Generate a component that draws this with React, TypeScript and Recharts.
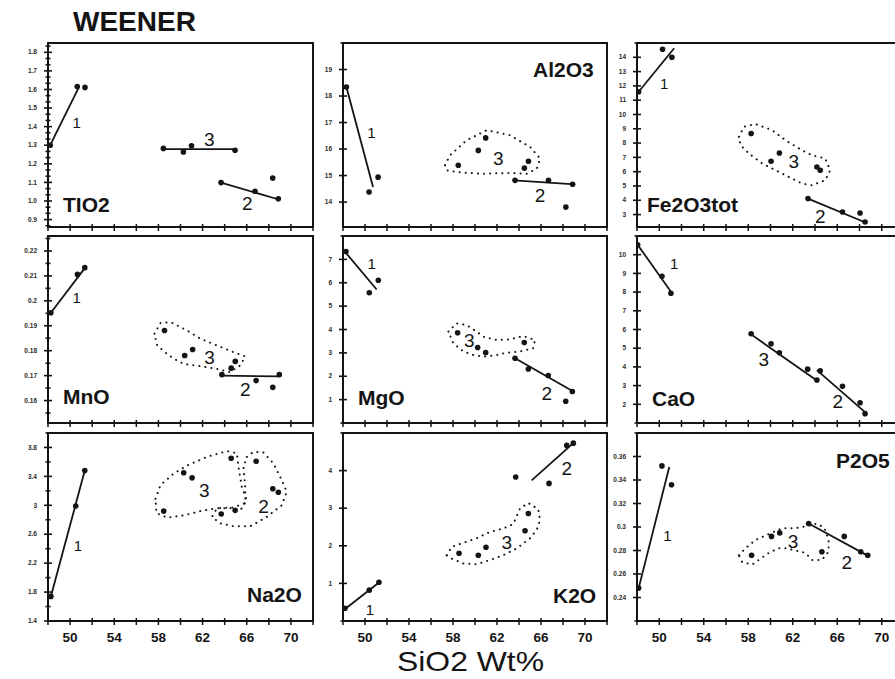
import React from 'react';
import { ScatterChart, Scatter, XAxis, YAxis, ReferenceArea } from 'recharts';

type P = { x: number; y: number };
type L = { x: number; y: number; t: string };

const INK = '#141414';

// shared SiO2 axis
const SIO2_DOMAIN = [48, 72];
const SIO2_TICKS = [48, 50, 52, 54, 56, 58, 60, 62, 64, 66, 68, 70, 72];
const SIO2_LABELS = [50, 54, 58, 62, 66, 70];

// ---------- TiO2 ----------
const TIO2_DOMAIN = [0.86, 1.85];
const TIO2_TICKS = [0.9, 1.0, 1.1, 1.2, 1.3, 1.4, 1.5, 1.6, 1.7, 1.8];
const TIO2_PTS: P[] = [
  { x: 48.2, y: 1.3 }, { x: 50.65, y: 1.616 }, { x: 51.35, y: 1.611 },
  { x: 58.45, y: 1.283 }, { x: 60.26, y: 1.264 }, { x: 61.0, y: 1.297 }, { x: 64.94, y: 1.273 },
  { x: 63.67, y: 1.099 }, { x: 66.75, y: 1.052 }, { x: 68.35, y: 1.123 }, { x: 68.86, y: 1.012 },
];
const TIO2_LINES: P[][] = [
  [{ x: 48.2, y: 1.3 }, { x: 50.8, y: 1.613 }],
  [{ x: 58.4, y: 1.279 }, { x: 65.0, y: 1.279 }],
  [{ x: 63.67, y: 1.099 }, { x: 68.9, y: 1.008 }],
];
const TIO2_ENVS: P[][] = [];
const TIO2_LBL: L[] = [
  { x: 50.6, y: 1.42, t: '1' }, { x: 62.6, y: 1.331, t: '3' }, { x: 66.05, y: 0.985, t: '2' },
];

// ---------- Al2O3 ----------
const AL_DOMAIN = [13.06, 20];
const AL_TICKS = [14, 15, 16, 17, 18, 19];
const AL_PTS: P[] = [
  { x: 48.31, y: 18.34 }, { x: 50.37, y: 14.38 }, { x: 51.19, y: 14.94 },
  { x: 58.48, y: 15.39 }, { x: 60.3, y: 15.95 }, { x: 60.97, y: 16.42 }, { x: 64.86, y: 15.54 }, { x: 64.49, y: 15.28 },
  { x: 63.64, y: 14.82 }, { x: 66.68, y: 14.82 }, { x: 68.87, y: 14.67 }, { x: 68.26, y: 13.81 },
];
const AL_LINES: P[][] = [
  [{ x: 48.31, y: 18.34 }, { x: 50.73, y: 14.57 }],
  [{ x: 63.55, y: 14.82 }, { x: 69.11, y: 14.67 }],
];
const AL_ENVS: P[][] = [[
  { x: 57.27, y: 15.39 }, { x: 57.72, y: 15.76 }, { x: 59.24, y: 16.33 }, { x: 61.07, y: 16.71 },
  { x: 63.19, y: 16.52 }, { x: 65.01, y: 16.08 }, { x: 65.92, y: 15.64 }, { x: 65.62, y: 15.26 },
  { x: 64.71, y: 15.07 }, { x: 63.19, y: 15.1 }, { x: 60.76, y: 15.07 }, { x: 58.33, y: 15.13 },
  { x: 57.42, y: 15.2 },
]];
const AL_LBL: L[] = [
  { x: 50.59, y: 16.64, t: '1' }, { x: 62.12, y: 15.64, t: '3' }, { x: 65.92, y: 14.25, t: '2' },
];

// ---------- Fe2O3tot ----------
const FE_DOMAIN = [2.13, 15.0];
const FE_TICKS = [3, 4, 5, 6, 7, 8, 9, 10, 11, 12, 13, 14];
const FE_PTS: P[] = [
  { x: 48.15, y: 11.59 }, { x: 50.3, y: 14.56 }, { x: 51.14, y: 14.0 },
  { x: 58.26, y: 8.67 }, { x: 60.05, y: 6.73 }, { x: 60.8, y: 7.31 }, { x: 64.17, y: 6.33 }, { x: 64.47, y: 6.1 },
  { x: 63.37, y: 4.12 }, { x: 66.47, y: 3.18 }, { x: 68.05, y: 3.11 }, { x: 68.5, y: 2.48 },
];
const FE_LINES: P[][] = [
  [{ x: 48.15, y: 11.59 }, { x: 51.34, y: 14.63 }],
  [{ x: 63.37, y: 4.12 }, { x: 68.65, y: 2.41 }],
];
const FE_ENVS: P[][] = [[
  { x: 57.16, y: 8.44 }, { x: 57.61, y: 9.14 }, { x: 58.65, y: 9.33 }, { x: 60.14, y: 8.91 },
  { x: 61.34, y: 8.2 }, { x: 62.83, y: 7.5 }, { x: 63.72, y: 7.15 }, { x: 64.92, y: 6.92 },
  { x: 65.37, y: 6.1 }, { x: 64.92, y: 5.4 }, { x: 63.72, y: 5.05 }, { x: 62.83, y: 5.17 },
  { x: 61.64, y: 5.63 }, { x: 60.45, y: 6.1 }, { x: 59.25, y: 6.57 }, { x: 58.06, y: 7.27 },
  { x: 57.31, y: 7.85 },
]];
const FE_LBL: L[] = [
  { x: 50.45, y: 12.18, t: '1' }, { x: 62.09, y: 6.68, t: '3' }, { x: 64.48, y: 2.83, t: '2' },
];

// ---------- MnO ----------
const MNO_DOMAIN = [0.151, 0.226];
const MNO_TICKS = [0.16, 0.17, 0.18, 0.19, 0.2, 0.21, 0.22];
const MNO_PTS: P[] = [
  { x: 48.26, y: 0.1952 }, { x: 50.67, y: 0.2106 }, { x: 51.33, y: 0.2133 },
  { x: 58.55, y: 0.1881 }, { x: 60.38, y: 0.1781 }, { x: 61.1, y: 0.1805 }, { x: 64.96, y: 0.1757 }, { x: 64.59, y: 0.173 },
  { x: 63.75, y: 0.1704 }, { x: 66.85, y: 0.168 }, { x: 68.36, y: 0.1653 }, { x: 68.95, y: 0.1704 },
];
const MNO_LINES: P[][] = [
  [{ x: 48.26, y: 0.1952 }, { x: 51.42, y: 0.2136 }],
  [{ x: 63.75, y: 0.17 }, { x: 68.95, y: 0.1697 }],
];
const MNO_ENVS: P[][] = [[
  { x: 57.64, y: 0.1868 }, { x: 58.19, y: 0.1911 }, { x: 59.09, y: 0.1915 }, { x: 60.6, y: 0.1881 },
  { x: 61.8, y: 0.1848 }, { x: 63.3, y: 0.1821 }, { x: 64.8, y: 0.1794 }, { x: 65.86, y: 0.1777 },
  { x: 65.41, y: 0.1741 }, { x: 64.5, y: 0.1714 }, { x: 63.3, y: 0.1727 }, { x: 61.8, y: 0.1738 },
  { x: 60.29, y: 0.1747 }, { x: 59.39, y: 0.1768 }, { x: 58.64, y: 0.1792 }, { x: 57.89, y: 0.1821 },
]];
const MNO_LBL: L[] = [
  { x: 50.6, y: 0.2013, t: '1' }, { x: 62.64, y: 0.1774, t: '3' }, { x: 65.86, y: 0.1644, t: '2' },
];

// ---------- MgO ----------
const MGO_DOMAIN = [0, 8];
const MGO_TICKS = [1, 2, 3, 4, 5, 6, 7];
const MGO_PTS: P[] = [
  { x: 48.27, y: 7.34 }, { x: 50.39, y: 5.57 }, { x: 51.21, y: 6.11 },
  { x: 58.42, y: 3.86 }, { x: 60.24, y: 3.23 }, { x: 60.97, y: 3.01 }, { x: 64.48, y: 3.44 },
  { x: 63.64, y: 2.77 }, { x: 64.85, y: 2.31 }, { x: 66.66, y: 2.03 }, { x: 68.85, y: 1.35 }, { x: 68.25, y: 0.93 },
];
const MGO_LINES: P[][] = [
  [{ x: 48.03, y: 7.41 }, { x: 51.06, y: 5.71 }],
  [{ x: 63.64, y: 2.77 }, { x: 68.94, y: 1.35 }],
];
const MGO_ENVS: P[][] = [[
  { x: 57.58, y: 3.91 }, { x: 58.33, y: 4.26 }, { x: 59.24, y: 4.19 }, { x: 60.15, y: 3.91 },
  { x: 60.76, y: 3.69 }, { x: 61.97, y: 3.55 }, { x: 63.18, y: 3.58 }, { x: 64.39, y: 3.72 },
  { x: 65.45, y: 3.55 }, { x: 65.3, y: 3.2 }, { x: 64.09, y: 3.06 }, { x: 62.88, y: 3.01 },
  { x: 61.97, y: 2.91 }, { x: 60.76, y: 2.84 }, { x: 59.85, y: 2.91 }, { x: 58.94, y: 3.06 },
  { x: 58.03, y: 3.41 },
]];
const MGO_LBL: L[] = [
  { x: 50.61, y: 6.82, t: '1' }, { x: 59.48, y: 3.55, t: '3' }, { x: 66.52, y: 1.26, t: '2' },
];

// ---------- CaO ----------
const CAO_DOMAIN = [1, 11];
const CAO_TICKS = [2, 3, 4, 5, 6, 7, 8, 9, 10];
const CAO_PTS: P[] = [
  { x: 48.06, y: 10.53 }, { x: 50.24, y: 8.85 }, { x: 51.05, y: 7.94 },
  { x: 58.26, y: 5.77 }, { x: 60.05, y: 5.24 }, { x: 60.8, y: 4.76 }, { x: 63.34, y: 3.88 }, { x: 64.17, y: 3.3 },
  { x: 64.47, y: 3.79 }, { x: 66.47, y: 2.96 }, { x: 68.05, y: 2.08 }, { x: 68.5, y: 1.5 },
];
const CAO_LINES: P[][] = [
  [{ x: 48.06, y: 10.53 }, { x: 51.1, y: 7.98 }],
  [{ x: 58.06, y: 5.82 }, { x: 64.32, y: 3.21 }],
  [{ x: 64.17, y: 3.83 }, { x: 68.65, y: 1.5 }],
];
const CAO_ENVS: P[][] = [];
const CAO_LBL: L[] = [
  { x: 51.34, y: 9.52, t: '1' }, { x: 59.4, y: 4.41, t: '3' }, { x: 66.05, y: 2.15, t: '2' },
];

// ---------- Na2O ----------
const NA_DOMAIN = [1.4, 4.0];
const NA_TICKS = [1.4, 1.8, 2.2, 2.6, 3.0, 3.4, 3.8];
const NA_PTS: P[] = [
  { x: 48.26, y: 1.74 }, { x: 50.51, y: 2.99 }, { x: 51.33, y: 3.48 },
  { x: 58.48, y: 2.92 }, { x: 60.29, y: 3.45 }, { x: 61.05, y: 3.38 }, { x: 63.69, y: 2.88 },
  { x: 64.95, y: 2.93 }, { x: 64.59, y: 3.65 },
  { x: 66.85, y: 3.61 }, { x: 68.36, y: 3.23 }, { x: 68.86, y: 3.18 },
];
const NA_LINES: P[][] = [
  [{ x: 48.26, y: 1.74 }, { x: 51.33, y: 3.48 }],
];
const NA_ENVS: P[][] = [
  [
    { x: 57.73, y: 3.09 }, { x: 58.19, y: 3.28 }, { x: 59.39, y: 3.44 }, { x: 60.6, y: 3.55 },
    { x: 62.4, y: 3.67 }, { x: 64.21, y: 3.75 }, { x: 65.11, y: 3.72 }, { x: 65.25, y: 3.53 },
    { x: 65.56, y: 3.25 }, { x: 66.01, y: 3.07 }, { x: 65.41, y: 2.93 }, { x: 64.5, y: 2.96 },
    { x: 63.3, y: 2.96 }, { x: 61.8, y: 2.92 }, { x: 60.29, y: 2.86 }, { x: 58.79, y: 2.83 },
    { x: 57.83, y: 2.89 },
  ],
  [
    { x: 66.01, y: 3.67 }, { x: 66.61, y: 3.74 }, { x: 67.51, y: 3.73 }, { x: 68.41, y: 3.58 },
    { x: 69.17, y: 3.35 }, { x: 69.62, y: 3.19 }, { x: 69.17, y: 3.0 }, { x: 67.82, y: 2.84 },
    { x: 66.31, y: 2.71 }, { x: 64.8, y: 2.71 }, { x: 63.6, y: 2.75 }, { x: 62.85, y: 2.84 },
    { x: 63.3, y: 2.96 }, { x: 64.8, y: 2.97 }, { x: 65.86, y: 3.03 }, { x: 65.86, y: 3.25 },
    { x: 65.7, y: 3.53 },
  ],
];
const NA_LBL: L[] = [
  { x: 50.72, y: 2.45, t: '1' }, { x: 62.16, y: 3.21, t: '3' }, { x: 67.51, y: 2.99, t: '2' },
];

// ---------- K2O ----------
const K_DOMAIN = [0, 5];
const K_TICKS = [1, 2, 3, 4];
const K_PTS: P[] = [
  { x: 48.18, y: 0.34 }, { x: 50.39, y: 0.82 }, { x: 51.27, y: 1.03 },
  { x: 58.55, y: 1.8 }, { x: 60.3, y: 1.75 }, { x: 61.0, y: 1.96 }, { x: 64.55, y: 2.4 }, { x: 64.85, y: 2.86 },
  { x: 63.7, y: 3.83 }, { x: 66.73, y: 3.66 }, { x: 68.34, y: 4.67 }, { x: 68.94, y: 4.73 },
];
const K_LINES: P[][] = [
  [{ x: 48.1, y: 0.3 }, { x: 51.3, y: 1.03 }],
  [{ x: 65.15, y: 3.74 }, { x: 68.94, y: 4.73 }],
];
const K_ENVS: P[][] = [[
  { x: 57.42, y: 1.75 }, { x: 57.88, y: 1.97 }, { x: 58.94, y: 2.08 }, { x: 60.15, y: 2.2 },
  { x: 61.36, y: 2.37 }, { x: 62.58, y: 2.46 }, { x: 63.48, y: 2.58 }, { x: 64.09, y: 2.99 },
  { x: 64.85, y: 3.14 }, { x: 65.76, y: 2.97 }, { x: 65.91, y: 2.68 }, { x: 65.61, y: 2.42 },
  { x: 65.0, y: 2.2 }, { x: 63.79, y: 1.93 }, { x: 62.58, y: 1.75 }, { x: 61.36, y: 1.62 },
  { x: 60.15, y: 1.51 }, { x: 58.94, y: 1.53 }, { x: 57.88, y: 1.66 },
]];
const K_LBL: L[] = [
  { x: 50.45, y: 0.3, t: '1' }, { x: 62.88, y: 2.08, t: '3' }, { x: 68.34, y: 4.05, t: '2' },
];

// ---------- P2O5 ----------
const P_DOMAIN = [0.22, 0.38];
const P_TICKS = [0.24, 0.26, 0.28, 0.3, 0.32, 0.34, 0.36];
const P_PTS: P[] = [
  { x: 48.15, y: 0.248 }, { x: 50.24, y: 0.352 }, { x: 51.1, y: 0.336 },
  { x: 58.3, y: 0.276 }, { x: 60.09, y: 0.292 }, { x: 60.83, y: 0.295 }, { x: 64.62, y: 0.279 },
  { x: 63.43, y: 0.303 }, { x: 66.63, y: 0.292 }, { x: 68.11, y: 0.279 }, { x: 68.74, y: 0.276 },
];
const P_LINES: P[][] = [
  [{ x: 48.15, y: 0.248 }, { x: 50.9, y: 0.351 }],
  [{ x: 63.43, y: 0.303 }, { x: 68.86, y: 0.275 }],
];
const P_ENVS: P[][] = [[
  { x: 57.16, y: 0.276 }, { x: 57.76, y: 0.282 }, { x: 58.66, y: 0.289 }, { x: 59.85, y: 0.294 },
  { x: 61.04, y: 0.299 }, { x: 62.24, y: 0.299 }, { x: 63.43, y: 0.301 }, { x: 64.18, y: 0.303 },
  { x: 64.86, y: 0.299 }, { x: 65.22, y: 0.289 }, { x: 65.22, y: 0.279 }, { x: 64.62, y: 0.272 },
  { x: 63.73, y: 0.272 }, { x: 63.13, y: 0.278 }, { x: 62.24, y: 0.28 }, { x: 61.34, y: 0.282 },
  { x: 60.74, y: 0.282 }, { x: 59.85, y: 0.278 }, { x: 59.1, y: 0.273 }, { x: 58.35, y: 0.268 },
  { x: 57.46, y: 0.27 },
]];
const P_LBL: L[] = [
  { x: 50.74, y: 0.293, t: '1' }, { x: 62.03, y: 0.288, t: '3' }, { x: 66.86, y: 0.27, t: '2' },
];

// ---------- layout ----------
const COLS = [
  { left: 48, w: 265 },
  { left: 343, w: 264 },
  { left: 637, w: 267 },
];
const ROWS = [
  { top: 43, h: 184 },
  { top: 236, h: 187 },
  { top: 433, h: 188 },
];

type PanelDef = {
  key: string; col: number; row: number;
  domain: number[]; ticks: number[]; minor: number; dec: number;
  pts: P[]; lines: P[][]; envs: P[][]; labels: L[];
};

const PANELS: PanelDef[] = [
  { key: 'tio2', col: 0, row: 0, domain: TIO2_DOMAIN, ticks: TIO2_TICKS, minor: 3, dec: 1, pts: TIO2_PTS, lines: TIO2_LINES, envs: TIO2_ENVS, labels: TIO2_LBL },
  { key: 'al', col: 1, row: 0, domain: AL_DOMAIN, ticks: AL_TICKS, minor: 1, dec: -1, pts: AL_PTS, lines: AL_LINES, envs: AL_ENVS, labels: AL_LBL },
  { key: 'fe', col: 2, row: 0, domain: FE_DOMAIN, ticks: FE_TICKS, minor: 1, dec: -1, pts: FE_PTS, lines: FE_LINES, envs: FE_ENVS, labels: FE_LBL },
  { key: 'mno', col: 0, row: 1, domain: MNO_DOMAIN, ticks: MNO_TICKS, minor: 2, dec: -1, pts: MNO_PTS, lines: MNO_LINES, envs: MNO_ENVS, labels: MNO_LBL },
  { key: 'mgo', col: 1, row: 1, domain: MGO_DOMAIN, ticks: MGO_TICKS, minor: 1, dec: -1, pts: MGO_PTS, lines: MGO_LINES, envs: MGO_ENVS, labels: MGO_LBL },
  { key: 'cao', col: 2, row: 1, domain: CAO_DOMAIN, ticks: CAO_TICKS, minor: 1, dec: -1, pts: CAO_PTS, lines: CAO_LINES, envs: CAO_ENVS, labels: CAO_LBL },
  { key: 'na', col: 0, row: 2, domain: NA_DOMAIN, ticks: NA_TICKS, minor: 2, dec: -1, pts: NA_PTS, lines: NA_LINES, envs: NA_ENVS, labels: NA_LBL },
  { key: 'k', col: 1, row: 2, domain: K_DOMAIN, ticks: K_TICKS, minor: 1, dec: -1, pts: K_PTS, lines: K_LINES, envs: K_ENVS, labels: K_LBL },
  { key: 'p', col: 2, row: 2, domain: P_DOMAIN, ticks: P_TICKS, minor: 1, dec: -1, pts: P_PTS, lines: P_LINES, envs: P_ENVS, labels: P_LBL },
];

const TITLES = [
  { t: 'TIO2', x: 63, y: 212 },
  { t: 'Al2O3', x: 533, y: 77 },
  { t: 'Fe2O3tot', x: 647, y: 212 },
  { t: 'MnO', x: 63, y: 404 },
  { t: 'MgO', x: 358, y: 405 },
  { t: 'CaO', x: 652, y: 406 },
  { t: 'Na2O', x: 247, y: 602 },
  { t: 'K2O', x: 553, y: 603 },
  { t: 'P2O5', x: 836, y: 468 },
];

function buildTicks(majors: number[], n: number, dom: number[]): number[] {
  const step = (majors[1] - majors[0]) / n;
  const out: number[] = [];
  const k0 = -Math.floor((majors[0] - dom[0]) / step + 1e-9);
  for (let k = k0; k < 500; k++) {
    const v = majors[0] + k * step;
    if (v > dom[1] + 1e-9) break;
    if (v >= dom[0] - 1e-9) out.push(+v.toFixed(6));
  }
  return out;
}

function fmt(v: number, dec: number): string {
  if (dec >= 0) return v.toFixed(dec);
  return String(parseFloat(v.toFixed(4)));
}

const Empty = () => <g />;

const Dot = (p: any) => <circle cx={p.cx} cy={p.cy} r={2.8} fill={INK} />;

const LabelShape = (p: any) => {
  const t = (p.payload && p.payload.t) || p.t;
  return (
    <text x={p.cx} y={p.cy} textAnchor="middle" dominantBaseline="central"
      fontSize={t === '1' ? 15 : 19} fill={INK} fontFamily="Liberation Sans, Arial, sans-serif">
      {t}
    </text>
  );
};

function Panel({ d }: { d: PanelDef }) {
  const col = COLS[d.col];
  const row = ROWS[d.row];
  const YW = 40, TOP = 4, RIGHT = 4;
  const XH = d.row === 2 ? 30 : 8;
  const width = YW + col.w + RIGHT;
  const height = TOP + row.h + XH;
  const ticks = buildTicks(d.ticks, d.minor, d.domain);
  const showX = d.row === 2;

  const xTick = (p: any) => {
    const { x, y, payload } = p;
    const v = payload.value;
    return (
      <g>
        <line x1={x} x2={x} y1={y - 3} y2={y + 4} stroke={INK} strokeWidth={1.5} />
        {showX && SIO2_LABELS.indexOf(v) >= 0 ? (
          <text x={x} y={y + 21} textAnchor="middle" fontSize={13.5} fontWeight="bold" fill={INK}>{v}</text>
        ) : null}
      </g>
    );
  };

  const yTick = (p: any) => {
    const { x, y, payload } = p;
    const v = payload.value;
    const major = d.ticks.some((m) => Math.abs(m - v) < 1e-6);
    const len = major ? 4 : 2.5;
    return (
      <g>
        <line x1={x - len} x2={x + len} y1={y} y2={y} stroke={INK} strokeWidth={1.6} />
        {major ? (
          <text x={x - 11} y={y + 2.2} textAnchor="end" fontSize={6.5} fontWeight="bold" fill="#2a2a2a">{fmt(v, d.dec)}</text>
        ) : null}
      </g>
    );
  };

  return (
    <div style={{ position: 'absolute', left: col.left - YW, top: row.top - TOP }}>
      <ScatterChart width={width} height={height} margin={{ top: TOP, right: RIGHT, bottom: 0, left: 0 }}>
        <XAxis type="number" dataKey="x" domain={SIO2_DOMAIN} ticks={SIO2_TICKS} interval={0}
          allowDataOverflow tickSize={0} tickMargin={0} tickLine={false}
          axisLine={{ stroke: INK, strokeWidth: 2 }} height={XH} tick={xTick} />
        <YAxis type="number" dataKey="y" domain={d.domain} ticks={ticks} interval={0}
          allowDataOverflow width={YW} tickSize={0} tickMargin={0} tickLine={false}
          axisLine={{ stroke: INK, strokeWidth: 2 }} tick={yTick} />
        <ReferenceArea x1={SIO2_DOMAIN[0]} x2={SIO2_DOMAIN[1]} y1={d.domain[0]} y2={d.domain[1]}
          fill="none" fillOpacity={0} stroke={INK} strokeWidth={2} ifOverflow="visible" />
        {d.envs.map((e, i) => (
          <Scatter key={'env' + i} data={[...e, e[0]]} shape={Empty} isAnimationActive={false}
            line={{ stroke: INK, strokeWidth: 2, strokeDasharray: '0.1 6', strokeLinecap: 'round' }} />
        ))}
        {d.lines.map((l, i) => (
          <Scatter key={'ln' + i} data={l} shape={Empty} isAnimationActive={false}
            line={{ stroke: INK, strokeWidth: 1.8 }} />
        ))}
        <Scatter data={d.pts} shape={Dot} isAnimationActive={false} />
        <Scatter data={d.labels} shape={LabelShape} isAnimationActive={false} />
      </ScatterChart>
    </div>
  );
}

export default function App() {
  return (
    <div style={{
      position: 'absolute', left: 0, top: 0, width: 895, height: 679, overflow: 'hidden',
      background: '#ffffff', fontFamily: 'Liberation Sans, Arial, sans-serif',
    }}>
      {PANELS.map((d) => <Panel key={d.key} d={d} />)}
      <svg width={895} height={679} style={{ position: 'absolute', left: 0, top: 0, pointerEvents: 'none' }}>
        <text x={73} y={31} fontSize={28} fontWeight="bold" fill={INK}>WEENER</text>
        {TITLES.map((t) => (
          <text key={t.t} x={t.x} y={t.y} fontSize={21} fontWeight="bold" fill={INK}>{t.t}</text>
        ))}
        <text x={397} y={671} fontSize={28} fill={INK} textLength={147} lengthAdjust="spacingAndGlyphs">SiO2 Wt%</text>
      </svg>
    </div>
  );
}
